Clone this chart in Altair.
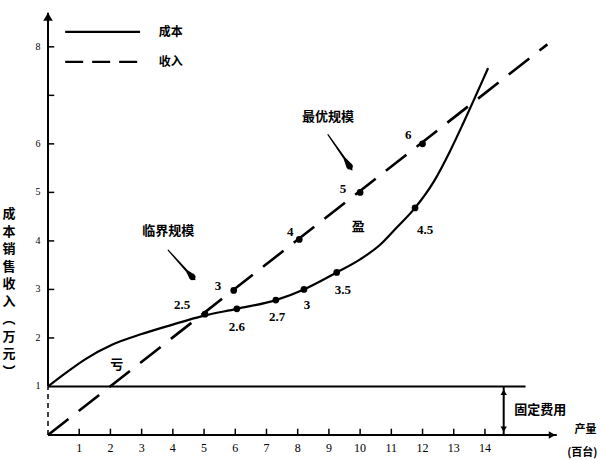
import altair as alt
import pandas as pd

# ---------------- data ----------------
cost_x = [0, 0.55, 1.19, 2.05, 3.0, 3.97, 4.94, 6.05, 7.3, 8.2, 9.25, 10.0, 10.64, 11.12, 11.76, 12.34, 12.88, 13.3, 13.62, 13.85, 14.1]
cost_y = [1.0, 1.27, 1.56, 1.86, 2.08, 2.27, 2.45, 2.6, 2.78, 3.0, 3.35, 3.62, 3.92, 4.24, 4.68, 5.2, 5.85, 6.42, 6.87, 7.2, 7.56]

revenue_x = [0, 16.0]
revenue_y = [0, 8.05]

cost_pt_x = [5.03, 6.05, 7.3, 8.2, 9.25, 11.76]
cost_pt_y = [2.49, 2.6, 2.78, 3.0, 3.35, 4.68]
cost_pt_label = ["2.5", "2.6", "2.7", "3", "3.5", "4.5"]
cost_lab_x = [4.3, 6.05, 7.34, 8.3, 9.45, 12.08]
cost_lab_y = [2.68, 2.23, 2.43, 2.68, 2.99, 4.23]

rev_pt_x = [5.95, 8.05, 10.0, 12.0]
rev_pt_y = [2.98, 4.03, 5.0, 6.0]
rev_pt_label = ["3", "4", "5", "6"]
rev_lab_x = [5.45, 7.76, 9.45, 11.54]
rev_lab_y = [3.07, 4.19, 5.07, 6.19]

fixed_cost = 1.0
fixed_end = 15.3

x_ticks = list(range(1, 15))
x_tick_labels = [str(v) for v in x_ticks]
y_ticks = [2, 3, 4, 5, 6, 7, 8]
y_label_vals = [1, 2, 3, 4, 5, 6, 8]

XD = [0, 16.5]
YD = [0, 8.8]
xs = alt.Scale(domain=XD, nice=False, zero=False)
ys = alt.Scale(domain=YD, nice=False, zero=False)

def X(f="x"):
    return alt.X(f"{f}:Q", scale=xs, axis=None)

def Y(f="y"):
    return alt.Y(f"{f}:Q", scale=ys, axis=None)

CJK = "Noto Sans CJK SC"
NUM = "Liberation Serif"

# ---------------- layers ----------------
cost_df = pd.DataFrame({"x": cost_x, "y": cost_y})
cost_line = alt.Chart(cost_df).mark_line(color="black", strokeWidth=2.2, interpolate="monotone").encode(x=X(), y=Y())

rev_df = pd.DataFrame({"x": revenue_x, "y": revenue_y})
rev_line = alt.Chart(rev_df).mark_line(color="black", strokeWidth=2.6, strokeDash=[26, 13]).encode(x=X(), y=Y())

fixed_df = pd.DataFrame({"x": [0], "x2": [fixed_end], "y": [fixed_cost]})
fixed_line = alt.Chart(fixed_df).mark_rule(color="black", strokeWidth=2.2).encode(x=X(), x2="x2:Q", y=Y())

cpt_df = pd.DataFrame({"x": cost_pt_x, "y": cost_pt_y})
rpt_df = pd.DataFrame({"x": rev_pt_x, "y": rev_pt_y})
pts = alt.Chart(pd.concat([cpt_df, rpt_df])).mark_point(filled=True, color="black", size=45, opacity=1).encode(x=X(), y=Y())

clab_df = pd.DataFrame({"x": cost_lab_x, "y": cost_lab_y, "t": cost_pt_label})
rlab_df = pd.DataFrame({"x": rev_lab_x, "y": rev_lab_y, "t": rev_pt_label})
labs = alt.Chart(pd.concat([clab_df, rlab_df])).mark_text(font=NUM, fontSize=13, fontWeight="bold", color="black").encode(x=X(), y=Y(), text="t:N")

# axes
yaxis_df = pd.DataFrame({"x": [0], "y": [fixed_cost], "y2": [8.7]})
yaxis = alt.Chart(yaxis_df).mark_rule(color="black", strokeWidth=2).encode(x=X(), y=Y(), y2="y2:Q")
yaxis_low_df = pd.DataFrame({"x": [0], "y": [0], "y2": [fixed_cost]})
yaxis_low = alt.Chart(yaxis_low_df).mark_rule(color="black", strokeWidth=1.5, strokeDash=[5, 4]).encode(x=X(), y=Y(), y2="y2:Q")
xaxis_df = pd.DataFrame({"x": [0], "x2": [16.3], "y": [0]})
xaxis = alt.Chart(xaxis_df).mark_rule(color="black", strokeWidth=2).encode(x=X(), x2="x2:Q", y=Y())

arrow_up_df = pd.DataFrame({"x": [0], "y": [8.62]})
arrow_up = alt.Chart(arrow_up_df).mark_point(shape="triangle-up", filled=True, color="black", size=90, opacity=1).encode(x=X(), y=Y())
arrow_right_df = pd.DataFrame({"x": [16.15], "y": [0]})
arrow_right = alt.Chart(arrow_right_df).mark_point(shape="triangle-right", filled=True, color="black", size=60, opacity=1).encode(x=X(), y=Y())

xt_df = pd.DataFrame({"x": x_ticks, "y": [0] * len(x_ticks), "y2": [0.13] * len(x_ticks)})
xt = alt.Chart(xt_df).mark_rule(color="black", strokeWidth=1.5).encode(x=X(), y=Y(), y2="y2:Q")
xtl_df = pd.DataFrame({"x": x_ticks, "y": [-0.27] * len(x_ticks), "t": x_tick_labels})
xtl = alt.Chart(xtl_df).mark_text(font=NUM, fontSize=12, color="black", baseline="middle").encode(x=X(), y=Y(), text="t:N")

yt_df = pd.DataFrame({"x": [0] * len(y_ticks), "x2": [0.2] * len(y_ticks), "y": y_ticks})
yt = alt.Chart(yt_df).mark_rule(color="black", strokeWidth=1.5).encode(x=X(), x2="x2:Q", y=Y())
ytl_df = pd.DataFrame({"x": [-0.32] * len(y_label_vals), "y": y_label_vals, "t": [str(v) for v in y_label_vals]})
ytl = alt.Chart(ytl_df).mark_text(font=NUM, fontSize=10, color="black", baseline="middle").encode(x=X(), y=Y(), text="t:N")

# fixed-cost double arrow
fc_df = pd.DataFrame({"x": [14.6], "y": [0], "y2": [fixed_cost]})
fc_rule = alt.Chart(fc_df).mark_rule(color="black", strokeWidth=2).encode(x=X(), y=Y(), y2="y2:Q")
fc_heads_df = pd.DataFrame({"x": [14.6, 14.6], "y": [0.88, 0.12], "s": ["triangle-up", "triangle-down"]})
fc_heads = alt.Chart(fc_heads_df).mark_point(filled=True, color="black", size=40, opacity=1).encode(
    x=X(), y=Y(), shape=alt.Shape("s:N", scale=None, legend=None))

# annotation arrows (teardrop)
ann_df = pd.DataFrame({
    "g": ["a"] * 4 + ["b"] * 4,
    "o": [0, 1, 2, 3] * 2,
    "x": [3.85, 4.45, 4.62, 4.71, 8.97, 9.5, 9.66, 9.74],
    "y": [3.81, 3.38, 3.26, 3.2, 6.19, 5.7, 5.54, 5.46],
    "w": [1.2, 2.2, 6.5, 1.0, 1.2, 2.2, 6.5, 1.0],
})
ann = alt.Chart(ann_df).mark_trail(color="black").encode(
    x=X(), y=Y(), detail="g:N", order="o:Q", size=alt.Size("w:Q", scale=None, legend=None))

# texts
txt_df = pd.DataFrame({
    "x": [3.85, 8.97, 9.94, 2.2, 15.77],
    "y": [4.2, 6.56, 4.29, 1.44, 0.52],
    "t": ["临界规模", "最优规模", "盈", "亏", "固定费用"],
})
txts = alt.Chart(txt_df).mark_text(font=CJK, fontSize=13, fontWeight="bold", color="black").encode(x=X(), y=Y(), text="t:N")

# legend
leg_df = pd.DataFrame({"x": [0.55], "x2": [2.95], "y": [8.31]})
leg_solid = alt.Chart(leg_df).mark_rule(color="black", strokeWidth=2.2).encode(x=X(), x2="x2:Q", y=Y())
leg2_df = pd.DataFrame({"x": [0.55], "x2": [2.95], "y": [7.69]})
leg_dash = alt.Chart(leg2_df).mark_rule(color="black", strokeWidth=2.2, strokeDash=[18, 9]).encode(x=X(), x2="x2:Q", y=Y())
legt_df = pd.DataFrame({"x": [3.55, 3.55], "y": [8.31, 7.69], "t": ["成本", "收入"]})
legt = alt.Chart(legt_df).mark_text(font=CJK, fontSize=12, fontWeight="bold", color="black", align="left", baseline="middle").encode(x=X(), y=Y(), text="t:N")

# axis titles
ytitle_df = pd.DataFrame({"x": [-1.25], "y": [4.55], "t": ["成\n本\n销\n售\n收\n入\n︵\n万\n元\n︶"]})
ytitle = alt.Chart(ytitle_df).mark_text(font=CJK, fontSize=13, fontWeight="bold", color="black", lineBreak="\n", lineHeight=17.5, baseline="middle").encode(x=X(), y=Y(), text="t:N")
xtitle_df = pd.DataFrame({"x": [17.22, 17.12], "y": [0.1, -0.37], "t": ["产量", "(百台)"]})
xtitle = alt.Chart(xtitle_df).mark_text(font=CJK, fontSize=11, fontWeight="bold", color="black", baseline="middle").encode(x=X(), y=Y(), text="t:N")

chart = alt.layer(
    yaxis_low, yaxis, xaxis, arrow_up, arrow_right, xt, xtl, yt, ytl,
    fixed_line, fc_rule, fc_heads,
    rev_line, cost_line, pts, labs, ann, txts,
    leg_solid, leg_dash, legt, ytitle, xtitle,
).properties(
    width=515, height=427,
    autosize=alt.AutoSizeParams(type="none"),
    padding={"left": 48, "top": 8, "right": 41, "bottom": 25},
    background="white",
).configure_view(stroke=None)

chart.save("out.html", embed_options={"renderer": "svg", "actions": False})
